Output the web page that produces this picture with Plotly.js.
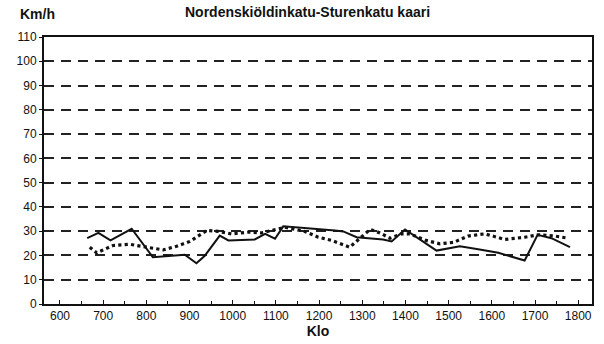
<!DOCTYPE html>
<html>
<head>
<meta charset="utf-8">
<script src="https://cdn.plot.ly/plotly-3.0.1.min.js"></script>
<style>html,body{margin:0;padding:0;background:#fff;}#chart{width:604px;height:344px;}</style>
</head>
<body>
<div id="chart"></div>
<script>
const solidX = [663, 689, 717, 766, 815, 889, 916, 936, 970, 990, 1051, 1075, 1098, 1117, 1237, 1256, 1287, 1348, 1368, 1399, 1472, 1526, 1565, 1615, 1676, 1706, 1738, 1781];
const solidY = [27.1, 29.3, 26.2, 31, 19.3, 20.3, 16.8, 20, 28.2, 26.2, 26.6, 28.9, 26.9, 32, 30.3, 29.9, 27.5, 26.6, 25.8, 30.7, 22, 23.8, 22.7, 21.1, 17.9, 28.5, 27.1, 23.4];
const dotX = [669, 685, 723, 762, 801, 839, 870, 901, 940, 966, 997, 1036, 1067, 1090, 1121, 1167, 1198, 1229, 1271, 1318, 1341, 1364, 1391, 1410, 1448, 1480, 1512, 1545, 1584, 1630, 1676, 1707, 1746, 1777];
const dotY = [23.4, 21.1, 24.1, 24.6, 23.4, 22.3, 23.8, 25.8, 30.3, 29.9, 28.9, 29.6, 29.3, 30.3, 31.6, 29.9, 27.5, 26.2, 23.4, 30.7, 29.3, 27.1, 28.9, 28.9, 26.2, 24.8, 25.4, 28, 28.9, 26.6, 27.5, 28.5, 28, 27.1];
const xTicks = [600, 700, 800, 900, 1000, 1100, 1200, 1300, 1400, 1500, 1600, 1700, 1800];
const yTicks = [0, 10, 20, 30, 40, 50, 60, 70, 80, 90, 100, 110];
const titleText = "Nordenskiöldinkatu-Sturenkatu kaari";
const xTitle = "Klo";
const yTitle = "Km/h";

const fam = "Liberation Sans, Arial, sans-serif";

const data = [
  {x: solidX, y: solidY, type: "scatter", mode: "lines", line: {color: "#111", width: 2}, hoverinfo: "skip"},
  {x: dotX, y: dotY, type: "scatter", mode: "lines", line: {color: "#111", width: 3.2, dash: "dot"}, hoverinfo: "skip"}
];

const layout = {
  width: 604, height: 344,
  margin: {l: 44, r: 12, t: 37, b: 40},
  paper_bgcolor: "#fff", plot_bgcolor: "#fff",
  showlegend: false,
  font: {family: fam, size: 12, color: "#111"},
  xaxis: {
    range: [563, 1832], tickvals: xTicks, ticktext: xTicks.map(String),
    showgrid: false, zeroline: false,
    showline: true, linecolor: "#111", linewidth: 2, mirror: true,
    ticks: "inside", ticklen: 4, tickcolor: "#111", tickwidth: 1,
    minor: {dtick: 50, tick0: 0, ticks: "inside", ticklen: 3, tickcolor: "#111", showgrid: false},
    tickfont: {family: fam, size: 12, color: "#111"},
    title: {text: "<b>" + xTitle + "</b>", standoff: 1, font: {family: fam, size: 14, color: "#111"}},
    fixedrange: true
  },
  yaxis: {
    range: [0, 110], tickvals: yTicks, ticktext: yTicks.map(String),
    showgrid: true, gridcolor: "#222", gridwidth: 2, griddash: "10px,7px",
    zeroline: false,
    showline: true, linecolor: "#111", linewidth: 2, mirror: true,
    ticks: "outside", ticklen: 3, tickcolor: "#111",
    tickfont: {family: fam, size: 12, color: "#111"},
    fixedrange: true
  },
  annotations: [
    {text: "<b>" + titleText + "</b>", xref: "paper", yref: "paper", x: 0.48, y: 1.131, xanchor: "center", yanchor: "top", showarrow: false, font: {family: fam, size: 14, color: "#111"}},
    {text: "<b>" + yTitle + "</b>", xref: "paper", yref: "paper", x: -0.048, y: 1.085, xanchor: "left", yanchor: "middle", showarrow: false, font: {family: fam, size: 14, color: "#111"}}
  ]
};

Plotly.newPlot("chart", data, layout, {displayModeBar: false, staticPlot: true});
</script>
</body>
</html>
